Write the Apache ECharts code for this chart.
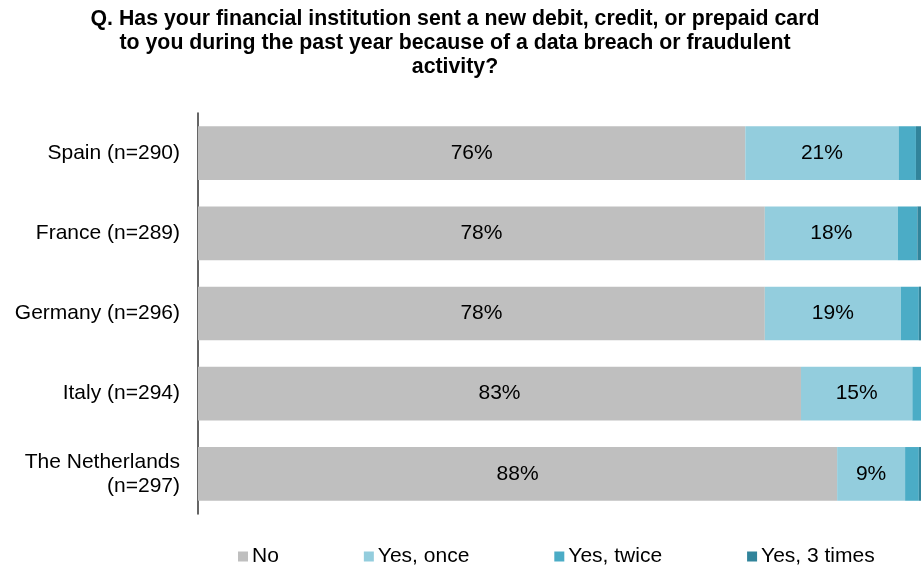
<!DOCTYPE html>
<html><head><meta charset="utf-8">
<script src="https://cdn.jsdelivr.net/npm/echarts@6/dist/echarts.min.js"></script>
<style>html,body{margin:0;padding:0;background:#fff}#c{width:921px;height:569px}</style>
</head><body><div id="c"></div>
<script>
const categories = ["Spain (n=290)", "France (n=289)", "Germany (n=296)", "Italy (n=294)", "The Netherlands\n(n=297)"];
const seriesNames = ["No", "Yes, once", "Yes, twice", "Yes, 3 times"];
const noVals = [75.7, 78.4, 78.4, 83.4, 88.4];
const onceVals = [21.2, 18.4, 18.8, 15.4, 9.4];
const twiceVals = [2.4, 2.7, 2.5, 1.2, 1.9];
const threeVals = [0.7, 0.5, 0.3, 0.0, 0.3];
const colors = ["#BFBFBF", "#93CDDD", "#4BACC6", "#31849B"];
const showLabels = [true, true, false, false];
const allVals = [noVals, onceVals, twiceVals, threeVals];

const FF = 'Liberation Sans, Arial, sans-serif';
const chart = echarts.init(document.getElementById('c'), null, {renderer: 'canvas'});
chart.setOption({
  animation: false,
  backgroundColor: '#fff',
  title: {
    text: "Q. Has your financial institution sent a new debit, credit, or prepaid card\nto you during the past year because of a data breach or fraudulent\nactivity?",
    left: 450, top: 2, textAlign: 'center',
    textStyle: {fontFamily: FF, fontSize: 21.3, fontWeight: 'bold', color: '#000', lineHeight: 24}
  },
  legend: {
    data: seriesNames,
    left: 233, top: 541,
    itemWidth: 10, itemHeight: 10, itemGap: 85, icon: 'rect',
    textStyle: {fontFamily: FF, fontSize: 21, color: '#000', padding: [0,0,0,-1]}
  },
  grid: {left: 198, right: 0, top: 113, bottom: 55, containLabel: false},
  xAxis: {type: 'value', min: 0, max: 100, show: false},
  yAxis: {
    type: 'category', data: categories, inverse: true,
    axisLine: {show: true, lineStyle: {color: '#333', width: 1.5}},
    axisTick: {show: false},
    axisLabel: {margin: 18, fontFamily: FF, fontSize: 21, color: '#000', lineHeight: 24, align: 'right'}
  },
  series: seriesNames.map((n, i) => ({
    name: n, type: 'bar', stack: 'total', barCategoryGap: '33%',
    itemStyle: {color: colors[i]},
    data: allVals[i],
    label: {
      show: showLabels[i], position: 'inside', color: '#000',
      fontFamily: FF, fontSize: 21,
      formatter: p => Math.round(p.value) + '%'
    }
  }))
});
</script></body></html>
